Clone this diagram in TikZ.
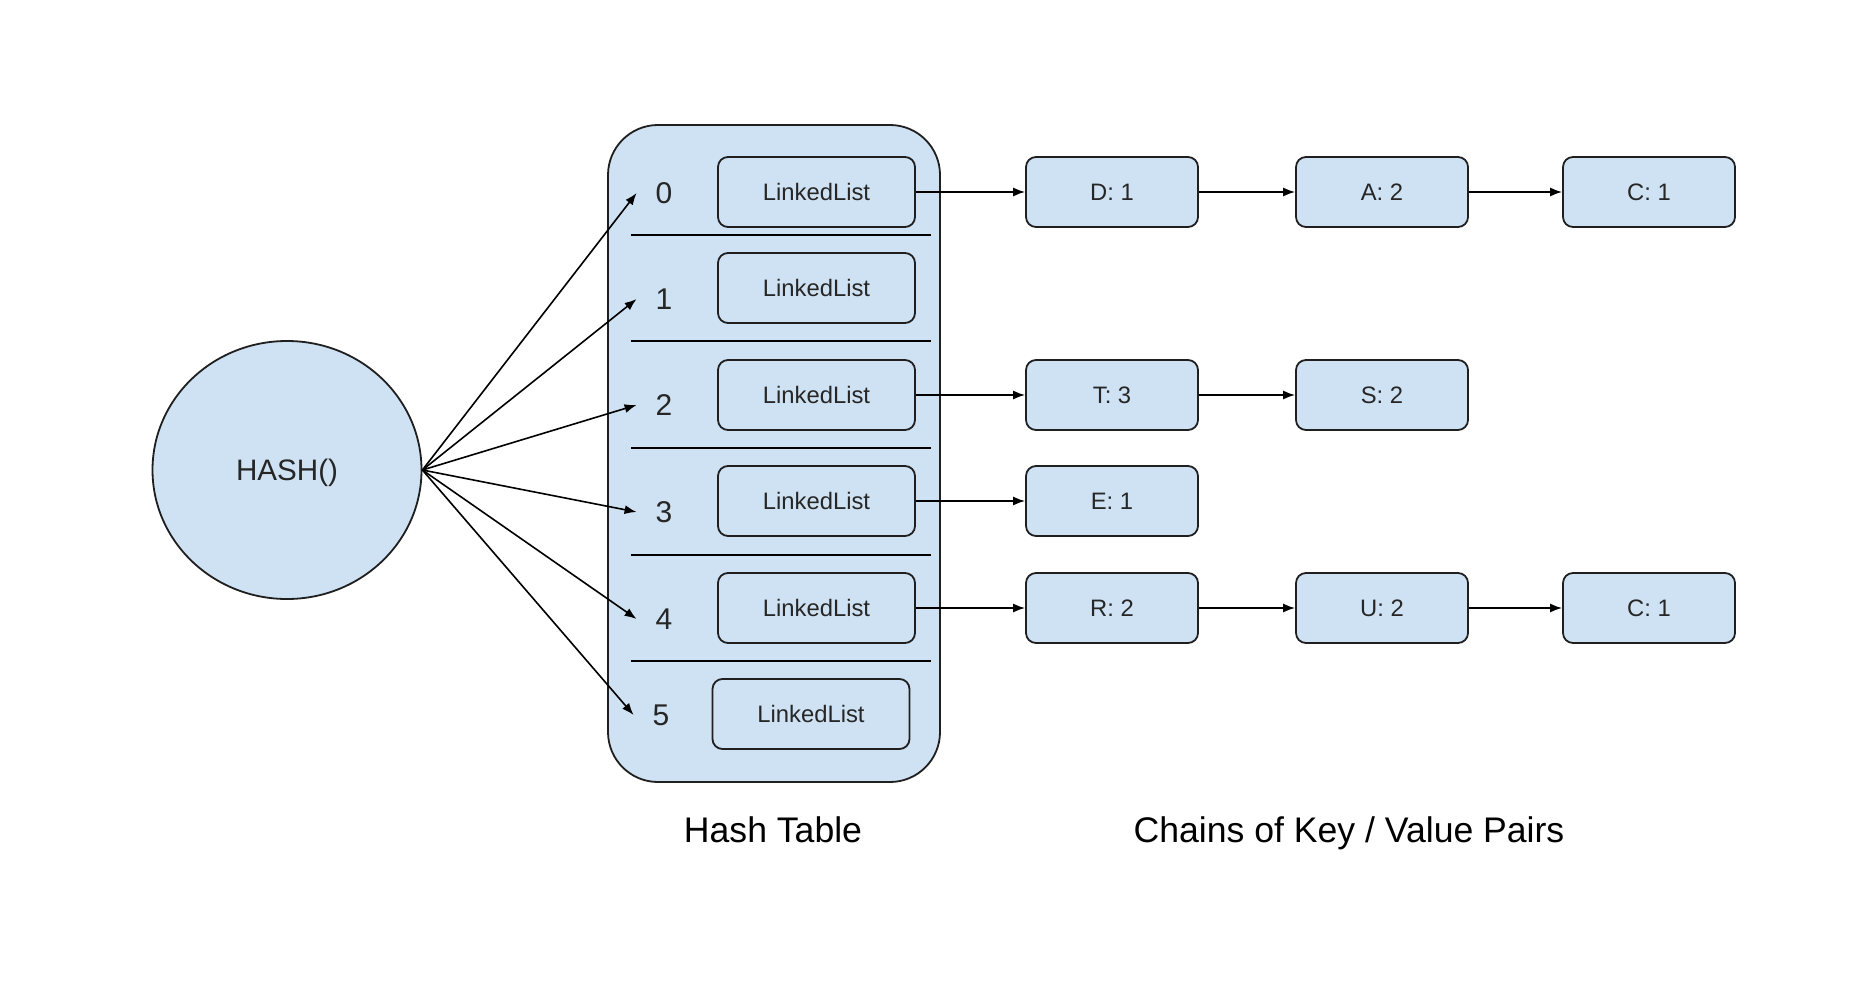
\documentclass[tikz,border=0pt]{standalone}
\usepackage{fontspec}
\setmainfont{Liberation Sans}
\usetikzlibrary{shapes.geometric,arrows.meta}
\definecolor{boxfill}{HTML}{CFE2F3}
\definecolor{edgec}{HTML}{1F1F1F}
\definecolor{txt}{HTML}{262626}
\begin{document}
\begin{tikzpicture}[x=0.5pt,y=-0.5pt,
  box/.style={draw=edgec,fill=boxfill,line width=0.9pt,rounded corners=5pt,
    minimum width=98.5pt,minimum height=35pt,inner sep=0pt,
    font=\fontsize{11.9}{14}\selectfont,text=txt},
  kv/.style={box,minimum width=86pt},
  idx/.style={inner sep=0pt,minimum width=27pt,font=\fontsize{15}{18}\selectfont,text=txt},
  arr/.style={draw=black,line width=0.8pt,-{Latex[length=6pt,width=4.5pt]}},
  sepline/.style={draw=black,line width=0.9pt},
  lbl/.style={font=\fontsize{17.8}{20}\selectfont,text=black,anchor=base}]
\useasboundingbox (0,0) rectangle (1866,1000);
\fill[white] (0,0) rectangle (1866,1000);

% hash function
\node[ellipse,draw=edgec,fill=boxfill,line width=0.9pt,minimum width=134.5pt,
  minimum height=129pt,inner sep=0pt,text depth=0pt,
  font=\fontsize{14.8}{18}\selectfont,text=txt]
  (hash) at (287,470) {HASH()};

% hash table container
\node[draw=edgec,fill=boxfill,line width=0.9pt,rounded corners=25pt,
  minimum width=166pt,minimum height=328.5pt] (table) at (774,453.5) {};

% separators
\foreach \yy in {235,341,448,555,661}
  \draw[sepline] (631,\yy) -- (931,\yy);

% linked list boxes
\node[box] (ll0) at (816.5,192) {LinkedList};
\node[box] (ll1) at (816.5,288) {LinkedList};
\node[box] (ll2) at (816.5,395) {LinkedList};
\node[box] (ll3) at (816.5,501) {LinkedList};
\node[box] (ll4) at (816.5,608) {LinkedList};
\node[box] (ll5) at (811,714) {LinkedList};

% indices
\node[idx] (n0) at (664,193) {0};
\node[idx] (n1) at (664,299) {1};
\node[idx] (n2) at (664,405) {2};
\node[idx] (n3) at (664,512) {3};
\node[idx] (n4) at (664,619) {4};
\node[idx] (n5) at (661,715) {5};

\foreach \n in {n0,n1,n2,n3,n4,n5}
  \draw[arr] (hash.east) -- (\n.west);

% chains
\node[kv] (d1) at (1112,192) {D: 1};
\node[kv] (a2) at (1382,192) {A: 2};
\node[kv] (c1) at (1649,192) {C: 1};
\node[kv] (t3) at (1112,395) {T: 3};
\node[kv] (s2) at (1382,395) {S: 2};
\node[kv] (e1) at (1112,501) {E: 1};
\node[kv] (r2) at (1112,608) {R: 2};
\node[kv] (u2) at (1382,608) {U: 2};
\node[kv] (c1b) at (1649,608) {C: 1};

\draw[arr] (ll0) -- (d1);
\draw[arr] (d1) -- (a2);
\draw[arr] (a2) -- (c1);
\draw[arr] (ll2) -- (t3);
\draw[arr] (t3) -- (s2);
\draw[arr] (ll3) -- (e1);
\draw[arr] (ll4) -- (r2);
\draw[arr] (r2) -- (u2);
\draw[arr] (u2) -- (c1b);

% labels
\node[lbl] (lt) at (773,842) {Hash Table};
\node[lbl] (lc) at (1349,842) {Chains of Key / Value Pairs};
\end{tikzpicture}
\end{document}
